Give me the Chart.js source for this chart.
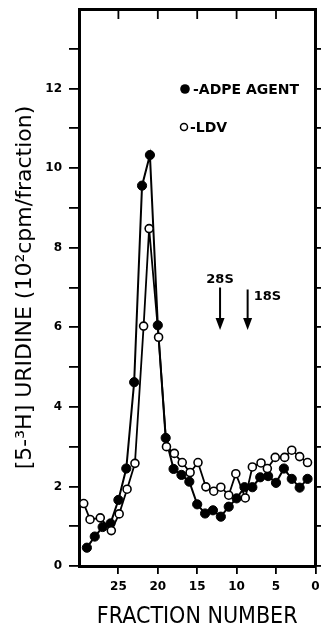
<!DOCTYPE html>
<html><head><meta charset="utf-8">
<script src="https://cdn.jsdelivr.net/npm/chart.js@4"></script>
<style>html,body{margin:0;padding:0;background:#fff;}canvas{display:block;}</style>
</head><body>
<canvas id="c" width="321" height="627"></canvas>
<script>
// Fraction numbers and [5-3H] uridine counts (10^2 cpm/fraction)
const adpeFractions = [29,28,27,26,25,24,23,22,21,20,19,18,17,16,15,14,13,12,11,10,9,8,7,6,5,4,3,2,1];
const adpeValues = [0.46,0.74,0.98,1.07,1.66,2.45,4.62,9.56,10.33,6.05,3.22,2.44,2.29,2.12,1.55,1.32,1.40,1.24,1.49,1.70,1.98,1.98,2.23,2.26,2.09,2.45,2.19,1.97,2.19];
const ldvFractions = [29.4,28.6,27.3,25.9,24.9,23.9,22.9,21.8,21.1,19.9,18.9,17.9,16.9,15.9,14.9,13.9,12.9,12.0,11.0,10.1,8.9,8.0,6.9,6.1,5.1,3.9,3.0,2.0,1.0];
const ldvValues = [1.57,1.17,1.21,0.89,1.31,1.93,2.58,6.03,8.48,5.75,3.00,2.83,2.60,2.35,2.60,1.99,1.88,1.98,1.78,2.32,1.71,2.49,2.59,2.45,2.73,2.73,2.91,2.75,2.60];
const xTickValues = [25,20,15,10,5,0];
const yTickValues = [0,1,2,3,4,5,6,7,8,9,10,11,12,13];
const yLabelValues = [0,2,4,6,8,10,12];
const seriesLabels = ['-ADPE AGENT','-LDV'];
const markerLabels = ['28S','18S'];
const markerFractions = [12.1,8.6];
const markerTopValues = [7.0,6.95];
const markerTipValues = [5.93,5.93];

const FONT = '"DejaVu Sans", sans-serif';
const COND = '"DejaVu Sans Condensed", "DejaVu Sans", sans-serif';

const overlay = {
  id: 'overlay',
  afterDatasetsDraw(chart) {
    const c = chart.ctx, xs = chart.scales.x, ys = chart.scales.y, area = chart.chartArea;
    c.save();
    c.fillStyle = '#000'; c.strokeStyle = '#000';
    // inward tick marks on the top frame
    c.lineWidth = 1.8;
    xTickValues.forEach(v => {
      const x = xs.getPixelForValue(v);
      if (x < area.right - 3) { c.beginPath(); c.moveTo(x, area.top); c.lineTo(x, area.top + 10); c.stroke(); }
    });
    markerLabels.forEach((lab, i) => {
      const x = xs.getPixelForValue(markerFractions[i]);
      const yTop = ys.getPixelForValue(markerTopValues[i]);
      const yTip = ys.getPixelForValue(markerTipValues[i]);
      c.lineWidth = 2;
      c.beginPath(); c.moveTo(x, yTop); c.lineTo(x, yTip - 8); c.stroke();
      c.beginPath(); c.moveTo(x - 4.5, yTip - 12); c.lineTo(x + 4.5, yTip - 12); c.lineTo(x, yTip); c.closePath(); c.fill();
      c.font = 'bold 13px ' + FONT;
      c.textBaseline = 'alphabetic';
      if (i === 0) { c.textAlign = 'center'; c.fillText(lab, x, yTop - 5); }
      else { c.textAlign = 'left'; c.fillText(lab, x + 6, yTop + 11); }
    });
    const lx = area.left + 106, ly1 = area.top + 80, ly2 = area.top + 118;
    c.beginPath(); c.arc(lx, ly1, 4.8, 0, Math.PI * 2); c.fill();
    c.lineWidth = 1.5;
    c.beginPath(); c.arc(lx - 1, ly2, 3.5, 0, Math.PI * 2); c.stroke();
    c.font = 'bold 14px ' + FONT; c.textAlign = 'left'; c.textBaseline = 'middle';
    c.fillText(seriesLabels[0], lx + 8, ly1 + 1);
    c.fillText(seriesLabels[1], lx + 5, ly2 + 1);
    c.restore();
  }
};

const baseGrid = { drawOnChartArea: false, drawTicks: true, color: '#000', tickColor: '#000', tickWidth: 1.8, lineWidth: 1.8 };
const baseBorder = { display: true, color: '#000', width: 3 };
const noPad = s => { s.paddingLeft = 0; s.paddingRight = 0; s.paddingTop = 0; s.paddingBottom = 0; };

new Chart(document.getElementById('c'), {
  type: 'line',
  data: {
    datasets: [
      { label: 'LDV', data: ldvFractions.map((f, i) => ({ x: f, y: ldvValues[i] })),
        borderColor: '#000', borderWidth: 1.8, pointRadius: 4, pointBackgroundColor: '#fff',
        pointBorderColor: '#000', pointBorderWidth: 1.6, tension: 0, order: 1 },
      { label: 'ADPE AGENT', data: adpeFractions.map((f, i) => ({ x: f, y: adpeValues[i] })),
        borderColor: '#000', borderWidth: 2, pointRadius: 4.6, pointBackgroundColor: '#000',
        pointBorderColor: '#000', pointBorderWidth: 1, tension: 0, order: 2 }
    ]
  },
  options: {
    responsive: false, animation: false, devicePixelRatio: 1,
    layout: { padding: 0 },
    plugins: { legend: { display: false }, tooltip: { enabled: false } },
    scales: {
      x: {
        type: 'linear', position: 'bottom', reverse: true, min: 0, max: 30,
        afterBuildTicks: s => { s.ticks = xTickValues.map(v => ({ value: v })); },
        ticks: { color: '#000', font: { family: FONT, weight: 'bold', size: 12 }, padding: 6, maxRotation: 0, autoSkip: false },
        grid: Object.assign({}, baseGrid, { tickLength: 8 }),
        border: baseBorder,
        title: { display: true, text: 'FRACTION NUMBER', color: '#000', font: { family: COND, size: 23, lineHeight: 0.9 }, padding: { top: 0, bottom: 0 } },
        afterFit: s => { s.height = 61; noPad(s); }
      },
      x2: {
        type: 'linear', position: 'top', reverse: true, min: 0, max: 30,
        ticks: { display: false },
        grid: Object.assign({}, baseGrid, { drawTicks: false }),
        border: baseBorder,
        afterFit: s => { s.height = 9; noPad(s); }
      },
      y: {
        type: 'linear', position: 'left', min: 0, max: 14,
        afterBuildTicks: s => { s.ticks = yTickValues.map(v => ({ value: v })); },
        ticks: { color: '#000', font: { family: FONT, weight: 'bold', size: 12 }, padding: 7,
                 callback: v => yLabelValues.includes(v) ? String(v) : '' },
        grid: Object.assign({}, baseGrid, { tickLength: 10 }),
        border: baseBorder,
        title: { display: true, text: '[5-³H] URIDINE (10²cpm/fraction)', color: '#000', font: { family: FONT, size: 22 }, padding: { top: 12, bottom: 0 } },
        afterFit: s => { s.width = 79; noPad(s); }
      },
      y2: {
        type: 'linear', position: 'right', min: 0, max: 14,
        afterBuildTicks: s => { s.ticks = yTickValues.map(v => ({ value: v })); },
        ticks: { display: false },
        grid: Object.assign({}, baseGrid, { tickLength: 6 }),
        border: baseBorder,
        afterFit: s => { s.width = 5; noPad(s); }
      }
    }
  },
  plugins: [overlay]
});
</script>
</body></html>
